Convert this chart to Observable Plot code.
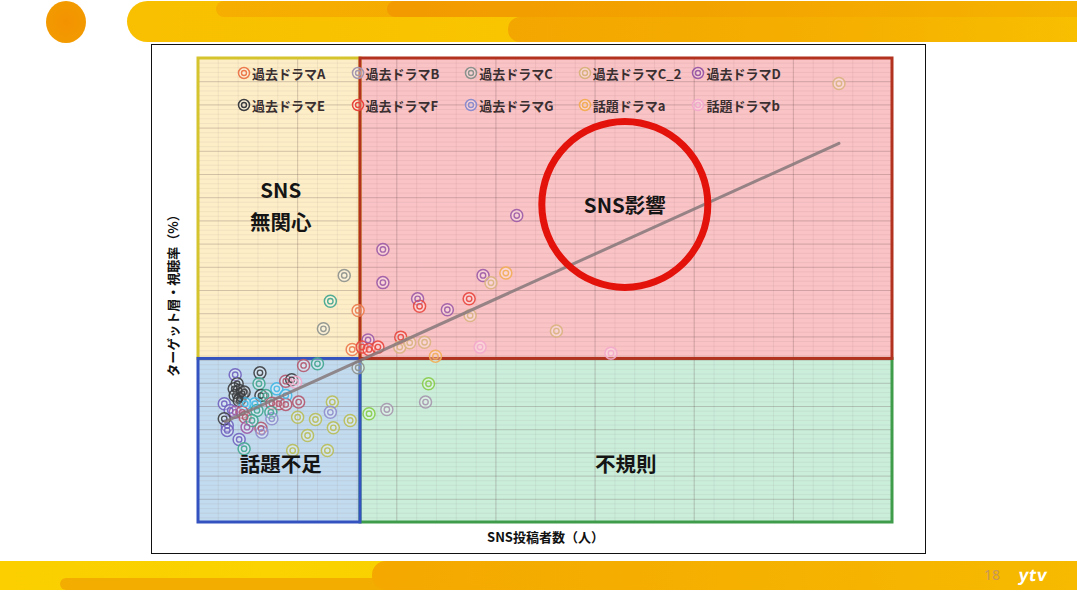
<!DOCTYPE html>
<html>
<head>
<meta charset="utf-8">
<script src="https://cdn.jsdelivr.net/npm/d3@7"></script>
<script src="https://cdn.jsdelivr.net/npm/@observablehq/plot@0.6"></script>
<style>
  body { margin: 0; background: #fff; }
  #slide { position: relative; width: 1077px; height: 600px; overflow: hidden; background: #fff;
           font-family: "Noto Sans CJK JP", "Noto Sans", sans-serif; }
  .abs { position: absolute; }
  #chart svg { position: absolute; left: 0; top: 0; }
</style>
</head>
<body>
<div id="slide">
  <!-- top banner -->
  <div class="abs" style="left:46px;top:1px;width:40px;height:42px;border-radius:50%;background:radial-gradient(circle at 50% 50%,#f39200 0%,#f39a00 70%,#f5a400 100%);"></div>
  <div class="abs" style="left:127px;top:1px;width:960px;height:41px;border-radius:21px 0 0 21px;background:linear-gradient(90deg,#f8c000,#f9c400 40%,#f7bc00);"></div>
  <div class="abs" style="left:216px;top:1px;width:600px;height:16px;border-radius:8px 0 0 8px;background:linear-gradient(90deg,#f6ae00,#f4a800);"></div>
  <div class="abs" style="left:387px;top:1px;width:700px;height:16px;border-radius:8px 0 0 8px;background:linear-gradient(90deg,#f29a00,#f3a400 50%,#f6b400);"></div>
  <div class="abs" style="left:508px;top:17px;width:580px;height:25px;border-radius:12px 0 0 12px;background:linear-gradient(90deg,#f3a600,#f5b000 60%,#f8bf00);"></div>
  <!-- bottom banner -->
  <div class="abs" style="left:0;top:561px;width:1077px;height:29px;background:linear-gradient(90deg,#fbcf00,#fad300 25%,#f8c600);"></div>
  <div class="abs" style="left:60px;top:578px;width:1017px;height:12px;border-radius:6px 0 0 6px;background:#f3ad00;"></div>
  <div class="abs" style="left:372px;top:561px;width:705px;height:29px;border-radius:14px 0 0 14px;background:linear-gradient(90deg,#f4a800,#f5b000 50%,#f7ba00);"></div>
  <div class="abs" style="left:984px;top:565px;font:14px 'Noto Sans','DejaVu Sans',sans-serif;color:#c8975a;">18</div>
  <div class="abs" style="left:1019px;top:563px;font:bold 17px 'Noto Sans','DejaVu Sans',sans-serif;color:#fff;letter-spacing:0.5px;transform:skewX(-8deg);">ytv</div>
  <!-- chart frame -->
  <div class="abs" style="left:151px;top:44px;width:773px;height:508px;border:1.5px solid #111;background:#fff;"></div>
  <div id="chart"></div>
  <div id="legend"></div>
</div>
<script>
// ---------- data ----------
const seriesNames = ["過去ドラマA","過去ドラマB","過去ドラマC","過去ドラマC_2","過去ドラマD",
                     "過去ドラマE","過去ドラマF","過去ドラマG","話題ドラマa","話題ドラマb"];
const seriesColors = ["#ec7a4c","#a596ad","#8c918c","#d9b27e","#9c5aa6",
                      "#3b3d40","#e8453c","#8e8ccc","#f2ad55","#f3a9cb"];
// series plotted but not shown in the legend
const extraNames = ["その他H","その他I","その他J","その他K","その他L","その他M"];
const extraColors = ["#3fa58e","#41b7e6","#b8bd55","#86cc48","#b2566e","#6f62bf"];

// [series, SNS posters (x), target rating (y)]
const points = [
  ["過去ドラマC_2",6.46,18.92],
  ["過去ドラマD",3.21,13.23],
  ["過去ドラマD",1.86,11.77],
  ["過去ドラマD",1.86,10.34],
  ["過去ドラマC",1.47,10.65],
  ["その他H",1.33,9.54],
  ["過去ドラマC",1.26,8.35],
  ["過去ドラマA",1.61,9.14],
  ["過去ドラマA",1.55,7.46],
  ["過去ドラマD",1.71,7.87],
  ["過去ドラマF",1.65,7.56],
  ["過去ドラマF",1.72,7.46],
  ["過去ドラマF",1.81,7.56],
  ["過去ドラマF",2.04,7.99],
  ["過去ドラマC_2",2.03,7.56],
  ["過去ドラマC_2",2.13,7.75],
  ["過去ドラマC_2",2.28,7.77],
  ["話題ドラマa",2.39,7.17],
  ["話題ドラマb",2.84,7.56],
  ["過去ドラマD",2.21,9.64],
  ["過去ドラマF",2.23,9.32],
  ["過去ドラマD",2.51,9.17],
  ["過去ドラマF",2.73,9.64],
  ["過去ドラマC_2",2.74,8.92],
  ["過去ドラマD",2.87,10.65],
  ["過去ドラマC_2",2.95,10.33],
  ["話題ドラマa",3.10,10.75],
  ["過去ドラマC_2",3.61,8.25],
  ["話題ドラマb",4.16,7.30],
  ["その他L",1.06,6.77],
  ["その他H",1.20,6.84],
  ["過去ドラマC",1.61,6.67],
  ["その他M",0.37,6.37],
  ["過去ドラマE",0.62,6.45],
  ["その他H",0.61,5.98],
  ["過去ドラマE",0.39,5.98],
  ["過去ドラマE",0.36,5.76],
  ["過去ドラマE",0.41,5.69],
  ["過去ドラマE",0.44,5.55],
  ["過去ドラマE",0.37,5.47],
  ["過去ドラマE",0.42,5.33],
  ["過去ドラマE",0.41,5.26],
  ["過去ドラマE",0.46,5.62],
  ["その他I",0.79,5.76],
  ["その他L",0.88,6.09],
  ["過去ドラマE",0.94,6.15],
  ["話題ドラマb",0.98,6.05],
  ["過去ドラマE",0.63,5.47],
  ["その他H",0.68,5.47],
  ["その他I",0.88,5.47],
  ["その他I",0.57,5.12],
  ["その他I",0.47,5.12],
  ["その他M",0.26,5.12],
  ["その他L",0.74,5.14],
  ["その他L",0.81,5.12],
  ["その他L",0.88,5.09],
  ["その他L",1.01,5.19],
  ["その他J",1.35,5.19],
  ["その他M",0.32,4.83],
  ["過去ドラマD",0.37,4.75],
  ["その他L",0.44,4.75],
  ["その他L",0.47,4.54],
  ["その他H",0.59,4.83],
  ["その他H",0.73,4.75],
  ["過去ドラマG",1.33,4.75],
  ["過去ドラマB",1.90,4.87],
  ["その他K",1.72,4.69],
  ["その他K",2.32,5.98],
  ["過去ドラマB",2.29,5.19],
  ["その他J",1.00,4.54],
  ["その他J",1.18,4.44],
  ["その他J",1.53,4.40],
  ["その他J",1.36,4.08],
  ["その他L",0.63,4.06],
  ["過去ドラマD",0.49,4.11],
  ["その他M",0.29,4.18],
  ["その他M",0.29,3.97],
  ["過去ドラマE",0.26,4.47],
  ["その他H",0.54,4.40],
  ["過去ドラマG",0.74,4.47],
  ["過去ドラマG",0.64,3.89],
  ["その他J",1.10,3.75],
  ["その他M",0.41,3.58],
  ["その他H",0.46,3.18],
  ["その他J",0.95,3.10],
  ["その他J",1.30,3.10]
];

// trend line endpoints
const trendX = [0.27, 6.46];
const trendY = [4.35, 16.34];

// axis domains and quadrant thresholds
const xDomain = [0, 7];
const yDomain = [0, 20];
const xSplit = 1.634;
const ySplit = 7.05;

const quadrantNames = ["SNS無関心", "不規則", "話題不足", "SNS影響"];
const quadrantX1 = [0, xSplit, 0, xSplit];
const quadrantX2 = [xSplit, 7, xSplit, 7];
const quadrantY1 = [ySplit, 0, 0, ySplit];
const quadrantY2 = [20, ySplit, ySplit, 20];

const labelTexts = ["SNS", "無関心", "SNS影響", "話題不足", "不規則"];
const labelX = [0.83, 0.83, 4.30, 0.83, 4.31];
const labelY = [14.25, 12.91, 13.62, 2.46, 2.46];

const focusX = [4.30];
const focusY = [13.71];

const xTitle = "SNS投稿者数（人）";
const yTitle = "ターゲット層・視聴率（%）";

// grid ticks
const xMajor = d3.range(1, 7);
const yMajor = d3.range(1, 20);
const xMinor = d3.range(0, 7.001, 0.2);
const yMinor = d3.range(0, 20.001, 0.2);

// ---------- styles ----------
const quadFills = ["#fdeec8", "#cbeedb", "#c3dbee", "#fac3c6"];
const quadStrokes = ["#d6c42e", "#3f9c4a", "#3553c0", "#b3321f"];

// ---------- build ----------
const quadrants = quadrantNames.map((n, i) => ({name: n, x1: quadrantX1[i], x2: quadrantX2[i], y1: quadrantY1[i], y2: quadrantY2[i]}));
const pts = points.map(([s, x, y]) => ({series: s, x, y}));
const trend = trendX.map((x, i) => ({x, y: trendY[i]}));
const labels = labelTexts.map((t, i) => ({text: t, x: labelX[i], y: labelY[i]}));
const focus = focusX.map((x, i) => ({x, y: focusY[i]}));
const font = "'Noto Sans CJK JP', 'Noto Sans', sans-serif";

const chart = Plot.plot({
  width: 1077,
  height: 600,
  marginLeft: 198,
  marginRight: 185,
  marginTop: 58,
  marginBottom: 78,
  x: {domain: xDomain, axis: null},
  y: {domain: yDomain, axis: null},
  color: {domain: [...seriesNames, ...extraNames], range: [...seriesColors, ...extraColors]},
  style: {background: "transparent", overflow: "visible", fontFamily: font},
  marks: [
    ...quadrants.map((q, i) => Plot.rect([q], {x1: "x1", x2: "x2", y1: "y1", y2: "y2", fill: quadFills[i]})),
    Plot.ruleX(xMinor, {stroke: "#6a4a4a", strokeOpacity: 0.07, strokeWidth: 1}),
    Plot.ruleY(yMinor, {stroke: "#6a4a4a", strokeOpacity: 0.07, strokeWidth: 1}),
    Plot.ruleX(xMajor, {stroke: "#5a4040", strokeOpacity: 0.2, strokeWidth: 1}),
    Plot.ruleY(yMajor, {stroke: "#5a4040", strokeOpacity: 0.2, strokeWidth: 1}),
    ...[0, 1, 2, 3].map(i => Plot.rect([quadrants[i]], {x1: "x1", x2: "x2", y1: "y1", y2: "y2", fill: "none", stroke: quadStrokes[i], strokeWidth: 3})),
    Plot.dot(pts, {x: "x", y: "y", r: 6, stroke: "series", strokeWidth: 1.5, fill: "white", fillOpacity: 0.3, strokeOpacity: 0.9}),
    Plot.dot(pts, {x: "x", y: "y", r: 2.7, stroke: "series", strokeWidth: 1.4, strokeOpacity: 0.9}),
    Plot.line(trend, {x: "x", y: "y", stroke: "#85787a", strokeWidth: 3, strokeOpacity: 0.85}),
    Plot.dot(focus, {x: "x", y: "y", r: 83, stroke: "#e3120b", strokeWidth: 7, fill: "none"}),
    Plot.text(labels, {x: "x", y: "y", text: "text", fontSize: 20.5, fontWeight: "bold", fill: "#151515", fontFamily: font}),
    Plot.text([xTitle], {frameAnchor: "bottom", dy: 15, lineAnchor: "middle", textAnchor: "middle", text: d => d, fontSize: 13, fontWeight: "bold", fill: "#111", fontFamily: font}),
    Plot.text([yTitle], {frameAnchor: "left", dx: -25, dy: 2, rotate: -90, textAnchor: "middle", lineAnchor: "middle", text: d => d, fontSize: 13, fontWeight: "bold", fill: "#111", fontFamily: font})
  ]
});
document.getElementById("chart").appendChild(chart);

// legend (inside plot, two rows of five)
const legend = document.getElementById("legend");
seriesNames.forEach((s, i) => {
  const col = i % 5, row = Math.floor(i / 5);
  const c = seriesColors[i];
  const el = document.createElement("div");
  el.style.cssText = `position:absolute;left:${237 + col * 113.6}px;top:${row ? 96 : 64}px;height:18px;display:flex;align-items:center;font-weight:bold;font-size:13px;font-family:${font};color:#3a2f30;white-space:nowrap;`;
  el.innerHTML = `<svg width="14" height="14" style="flex:none"><circle cx="7" cy="7" r="5.5" fill="white" fill-opacity="0.3" stroke="${c}" stroke-width="1.5"/><circle cx="7" cy="7" r="2.5" fill="none" stroke="${c}" stroke-width="1.4"/></svg><span style="margin-left:1px">${s}</span>`;
  legend.appendChild(el);
});
</script>
</body>
</html>
